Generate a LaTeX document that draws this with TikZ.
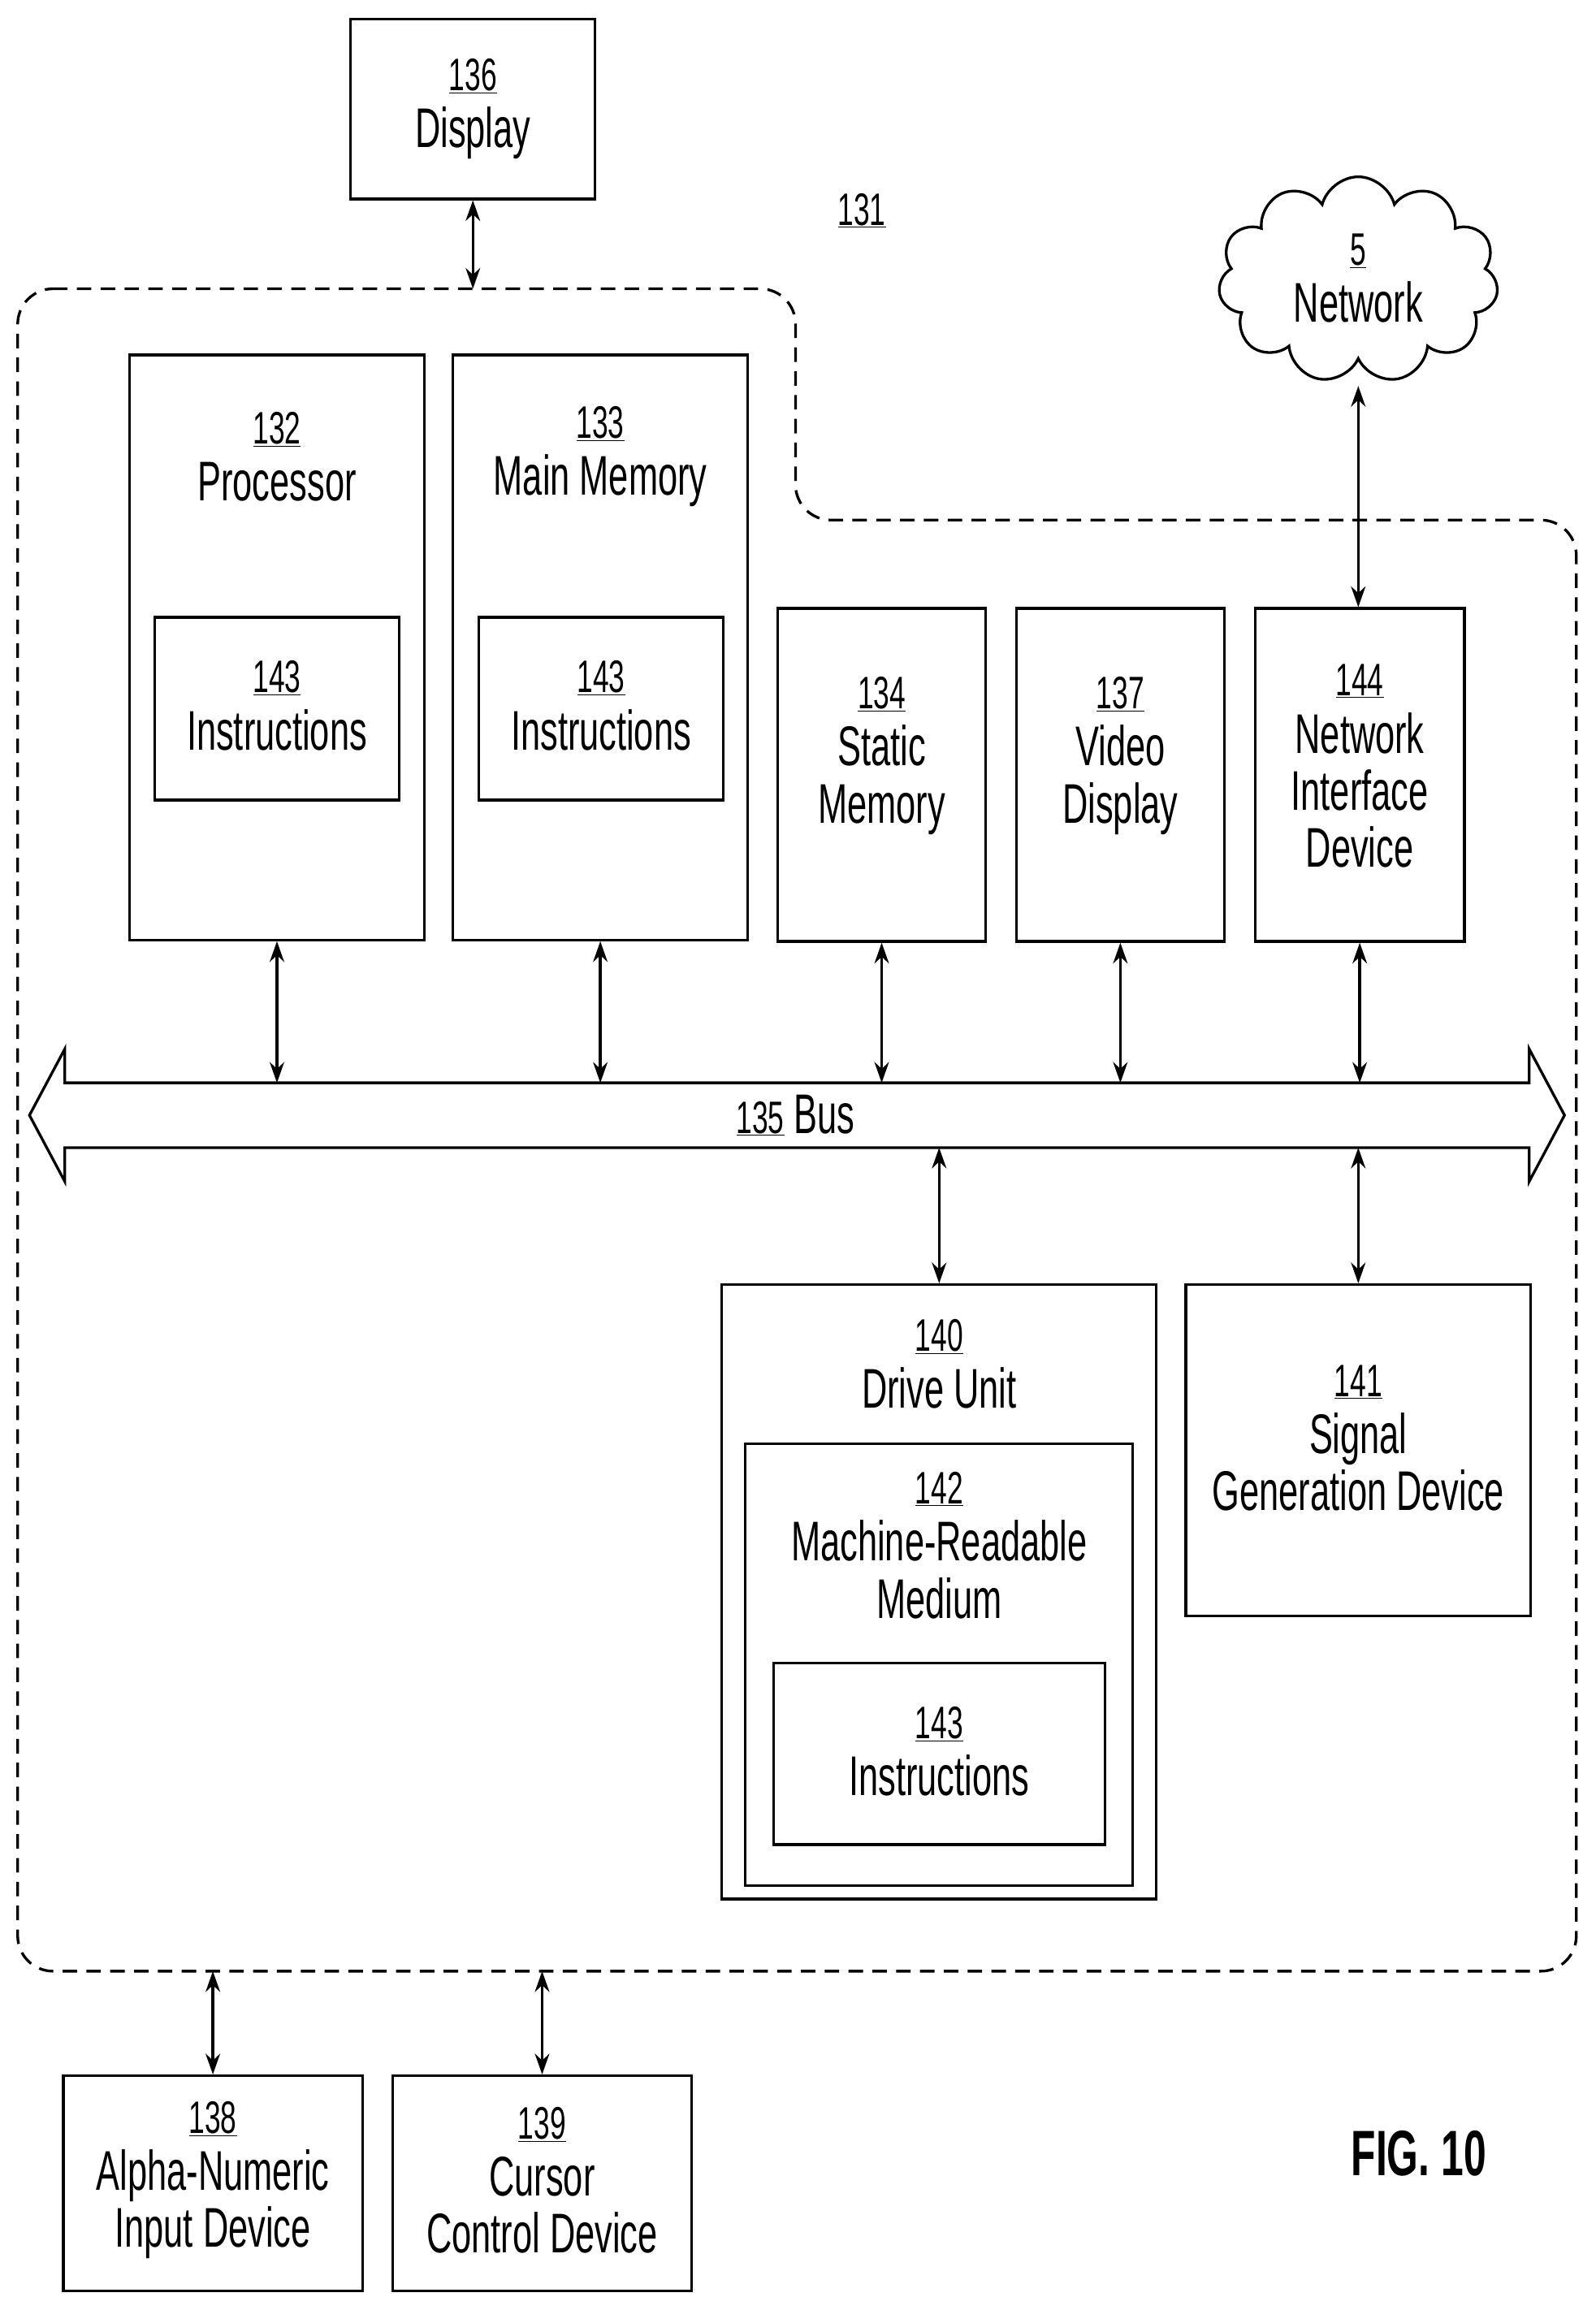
\documentclass[tikz,border=0pt]{standalone}
\usepackage{fontspec}
\setmainfont{Liberation Sans}[FakeStretch=0.63]
\usetikzlibrary{arrows.meta,shapes.symbols}
\newcommand{\num}[1]{{\fontsize{44}{55}\selectfont\underline{#1}}}
\begin{document}
\begin{tikzpicture}[x=0.05cm, y=-0.05cm,
  box/.style={draw, line width=2.6pt, inner sep=0pt},
  txt/.style={align=center, font=\fontsize{54}{55}\selectfont},
  arr/.style={{Stealth[length=20pt,width=14pt]}-{Stealth[length=20pt,width=14pt]}, line width=2.6pt},
  outline/.style={line width=2.6pt, dash pattern=on 14pt off 9pt, rounded corners=1.2cm}]
\useasboundingbox (0,0) rectangle (1083,1568);

% Display and system outline
\node[box, minimum width=8.3cm, minimum height=6.1cm] (disp) at (321,74) {};
\node[txt] at (321,74) {\num{136}\\Display};
\node[txt] (sys) at (585,143) {\num{131}};
\draw[outline] (12,196) -- (540,196) -- (540,353) -- (1070,353) -- (1070,1338) -- (12,1338) -- cycle;
\coordinate (dtop) at (0,196);
\coordinate (dbot) at (0,1338);
\draw[arr] (disp.south) -- (disp.south |- dtop);

% Network
\node[cloud, draw, line width=2.6pt, cloud puffs=11, aspect=1.4, minimum width=9.5cm, minimum height=7cm] (net) at (922,190) {};
\node[txt] at (922,189) {\num{5}\\Network};

% Upper units
\node[box, minimum width=10cm, minimum height=19.85cm] (proc) at (188,439.5) {};
\node[txt] at (188,310) {\num{132}\\Processor};
\node[box, minimum width=8.3cm, minimum height=6.2cm] (pins) at (188,481) {};
\node[txt] at (188,479) {\num{143}\\Instructions};
\node[box, minimum width=10cm, minimum height=19.85cm] (mem) at (407.5,439.5) {};
\node[txt] at (407.5,310) {\num{133}\\Main Memory};
\node[box, minimum width=8.3cm, minimum height=6.2cm] (mins) at (408,481) {};
\node[txt] at (408,479) {\num{143}\\Instructions};
\node[box, minimum width=7.05cm, minimum height=11.3cm] (smem) at (598.5,526) {};
\node[txt] at (598.5,513) {\num{134}\\Static\\Memory};
\node[box, minimum width=7.05cm, minimum height=11.3cm] (video) at (760.5,526) {};
\node[txt] at (760.5,513) {\num{137}\\Video\\Display};
\node[box, minimum width=7.1cm, minimum height=11.3cm] (nid) at (923,526) {};
\node[txt] at (923,520) {\num{144}\\Network\\Interface\\Device};
\draw[arr] (net.south |- 0,262) -- (nid.north -| net.south);

% Bus
\draw[line width=2.6pt, line join=miter] (20,757) -- (44,712) -- (44,735) -- (1038,735) -- (1038,712) -- (1062,757)
  -- (1038,802) -- (1038,779) -- (44,779) -- (44,802) -- cycle;
\node[txt] (bus) at (540,757) {\num{135}\ Bus};
\coordinate (btop) at (0,735);
\coordinate (bbot) at (0,779);
\foreach \n in {proc,mem,smem,video,nid}
  \draw[arr] (\n.south) -- (\n.south |- btop);

% Lower units
\node[box, minimum width=14.75cm, minimum height=20.85cm] (drive) at (637.5,1080.5) {};
\node[txt] at (637.5,926) {\num{140}\\Drive Unit};
\node[box, minimum width=13.15cm, minimum height=15cm] (mrm) at (637.5,1130) {};
\node[txt] at (637.5,1049) {\num{142}\\Machine-Readable\\Medium};
\node[box, minimum width=11.25cm, minimum height=6.15cm] (dins) at (637.5,1190.5) {};
\node[txt] at (637.5,1189) {\num{143}\\Instructions};
\node[box, minimum width=11.7cm, minimum height=11.25cm] (sig) at (922,984.5) {};
\node[txt] at (922,976) {\num{141}\\Signal\\Generation Device};
\draw[arr] (drive.north |- bbot) -- (drive.north);
\draw[arr] (sig.north |- bbot) -- (sig.north);

% External input devices
\node[box, minimum width=10.15cm, minimum height=7.3cm] (alpha) at (144.5,1482) {};
\node[txt] at (144.5,1480) {\num{138}\\Alpha-Numeric\\Input Device};
\node[box, minimum width=10.15cm, minimum height=7.3cm] (cursor) at (368,1482) {};
\node[txt] at (368,1480) {\num{139}\\Cursor\\Control Device};
\draw[arr] (alpha.north |- dbot) -- (alpha.north);
\draw[arr] (cursor.north |- dbot) -- (cursor.north);

\node[font=\fontsize{62}{70}\selectfont\bfseries] (fig) at (963,1462) {FIG. 10};
\end{tikzpicture}
\end{document}
